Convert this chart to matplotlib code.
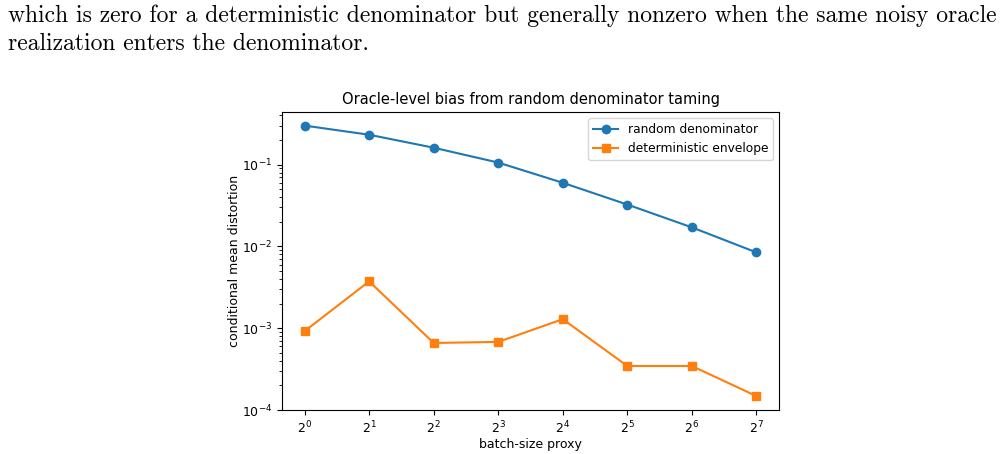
import matplotlib
matplotlib.use("Agg")
import matplotlib.pyplot as plt

# batch-size proxy exponents (base 2)
batch_exp = [0, 1, 2, 3, 4, 5, 6, 7]
random_denom = [0.30, 0.232, 0.161, 0.106, 0.060, 0.0325, 0.0171, 0.00845]
det_envelope = [9.2e-4, 3.74e-3, 6.6e-4, 6.8e-4, 1.29e-3, 3.45e-4, 3.45e-4, 1.48e-4]

para_lines = [
    "which is zero for a deterministic denominator but generally nonzero when the same noisy oracle",
    "realization enters the denominator.",
]

fig = plt.figure(figsize=(10.05, 4.54), dpi=100)

fig.text(8 / 1005, 1 - 22 / 454, para_lines[0], family="cmr10", fontsize=17.0,
         va="baseline", ha="left")
fig.text(8 / 1005, 1 - 50 / 454, para_lines[1], family="cmr10", fontsize=17.0,
         va="baseline", ha="left")

ax = fig.add_axes([282 / 1005, 44 / 454, 497 / 1005, 298 / 454])
xs = [2 ** e for e in batch_exp]
ax.plot(xs, random_denom, "o-", color="#1f77b4", markersize=6, lw=1.5,
        label="random denominator")
ax.plot(xs, det_envelope, "s-", color="#ff7f0e", markersize=6, lw=1.5,
        label="deterministic envelope")
ax.set_xscale("log", base=2)
ax.set_yscale("log")
ax.set_ylim(1e-4, 0.44)
ax.set_xticks(xs)
ax.tick_params(labelsize=9)
ax.set_xlabel("batch-size proxy", fontsize=9, labelpad=1)
ax.set_ylabel("conditional mean distortion", fontsize=9, labelpad=1)
ax.set_title("Oracle-level bias from random denominator taming", fontsize=10.5)
ax.legend(loc="upper right", fontsize=8.8)

fig.savefig("out.png", dpi=100)
